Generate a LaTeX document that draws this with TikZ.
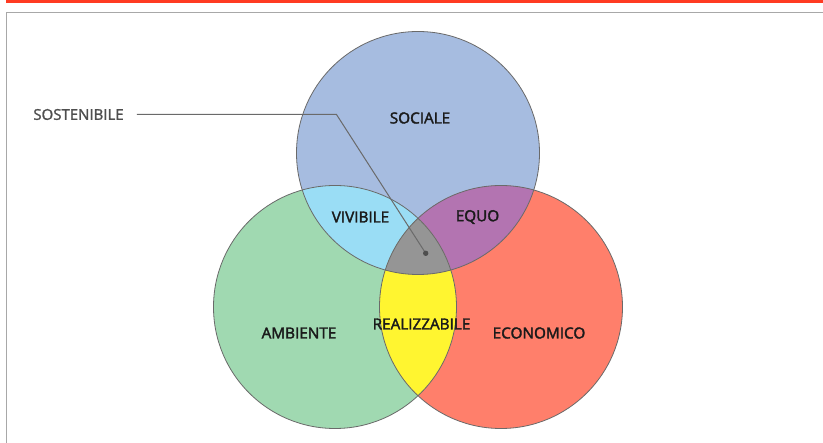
\documentclass[tikz,border=0pt]{standalone}
\usepackage{fontspec}
\setmainfont{Open Sans}
\newfontfamily\labfont{Open Sans}[FakeBold=2.2]
\newfontfamily\sidefont{Open Sans}[FakeBold=1.4]
\definecolor{cblue}{HTML}{A6BCE0}
\definecolor{cgreen}{HTML}{A0D9B1}
\definecolor{cred}{HTML}{FF7F6B}
\definecolor{clblue}{HTML}{9ADDF5}
\definecolor{cpurple}{HTML}{B374B1}
\definecolor{cyellow}{HTML}{FFF530}
\definecolor{cgray}{HTML}{959595}
\definecolor{cedge}{HTML}{6A6A6A}
\definecolor{cbar}{HTML}{FF3B22}
\definecolor{cframe}{HTML}{A8A8A8}
\definecolor{ctext}{HTML}{1A1A1A}
\definecolor{cside}{HTML}{4E4E4E}
\begin{document}
\begin{tikzpicture}[x=1pt,y=-1pt,
  setc/.style={circle,minimum size=243pt,inner sep=0pt,draw=cedge,line width=0.8pt},
  lab/.style={font=\labfont\fontsize{15.3}{17}\selectfont,text=ctext,inner sep=0pt},
  leader/.style={draw=cedge,line width=1pt}]
\useasboundingbox (0,0) rectangle (823,443);
\fill[white] (0,0) rectangle (823,443);
% top bar and frame
\fill[cbar] (6,0) rectangle (823,3.2);
\draw[cframe,line width=1pt] (6.5,443) -- (6.5,12.5) -- (823,12.5);
% circle centres
\coordinate (cs) at (418,153);
\coordinate (ca) at (335,307);
\coordinate (ce) at (501,307);
% fills
\fill[cblue] (cs) circle (121.5);
\fill[cgreen] (ca) circle (121.5);
\fill[cred] (ce) circle (121.5);
\begin{scope}
  \clip (cs) circle (121.5);
  \fill[clblue] (ca) circle (121.5);
  \fill[cpurple] (ce) circle (121.5);
\end{scope}
\begin{scope}
  \clip (ca) circle (121.5);
  \fill[cyellow] (ce) circle (121.5);
\end{scope}
\begin{scope}
  \clip (cs) circle (121.5);
  \clip (ca) circle (121.5);
  \fill[cgray] (ce) circle (121.5);
\end{scope}
% outlines as named nodes
\node[setc] (sociale) at (cs) {};
\node[setc] (ambiente) at (ca) {};
\node[setc] (economico) at (ce) {};
% labels
\node[lab] (lsoc) at (420,118) {SOCIALE};
\node[lab] (lviv) at (360.5,217) {VIVIBILE};
\node[lab] (lequo) at (477.5,217) {EQUO};
\node[lab] (lamb) at (299,333) {AMBIENTE};
\node[lab] (lreal) at (421.5,324) {REALIZZABILE};
\node[lab] (leco) at (539,333) {ECONOMICO};
\node[font=\sidefont\fontsize{15}{17}\selectfont,text=cside,inner sep=0pt] (sost) at (78.5,114.5) {SOSTENIBILE};
% leader
\coordinate (bend) at (336.5,114.5);
\coordinate (dot) at (425.7,253.3);
\draw[leader] ([xshift=13pt]sost.east) -- (bend) -- (dot);
\fill[cside] (dot) circle (2.7);
\end{tikzpicture}
\end{document}
